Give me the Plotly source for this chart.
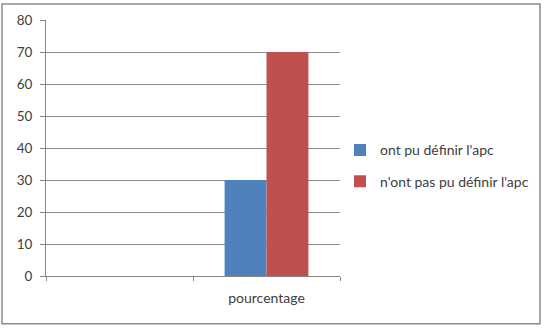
import plotly.graph_objects as go

categories = [" ", "pourcentage"]
series_names = ["ont pu définir l'apc", "n'ont pas pu définir l'apc"]
values_ont_pu = [None, 30]
values_nont_pas = [None, 70]
y_ticks = [0, 10, 20, 30, 40, 50, 60, 70, 80]

colors = ["#4F81BD", "#C0504D"]

fig = go.Figure()
for name, vals, col, grp in zip(series_names, [values_ont_pu, values_nont_pas], colors, ["a", "b"]):
    fig.add_trace(go.Bar(x=categories, y=vals, name=name, marker=dict(color=col, line=dict(width=0)),
                         legendgroup=grp))

fig.update_layout(
    width=549, height=333,
    margin=dict(l=46, r=209, t=18, b=57),
    paper_bgcolor="white", plot_bgcolor="white",
    barmode="group", bargap=0.43, bargroupgap=0,
    font=dict(family="Lato, Carlito, Liberation Sans", size=13, color="#404040"),
    showlegend=True,
    legend=dict(x=1.0, y=0.43, xanchor="left", yanchor="middle",
                font=dict(size=14, color="#404040"),
                traceorder="grouped", tracegroupgap=10, itemwidth=30,
                bgcolor="rgba(0,0,0,0)"),
    xaxis=dict(type="category", range=[-0.5, 1.5], tickson="boundaries",
               ticks="outside", ticklen=4, tickcolor="#868686",
               showline=True, linecolor="#868686", linewidth=1,
               showgrid=False, ticklabelstandoff=9,
               tickfont=dict(size=14, color="#404040")),
    yaxis=dict(range=[0, 80], tickvals=y_ticks, ticks="outside", ticklen=5,
               tickcolor="#868686", showline=True, linecolor="#868686", linewidth=1,
               showgrid=True, gridcolor="#8c8c8c", gridwidth=1, zeroline=False,
               ticklabelstandoff=5,
               tickfont=dict(size=13.5, color="#404040")),
    shapes=[dict(type="rect", xref="paper", yref="paper",
                 x0=(2 - 46) / 294, x1=(540 - 46) / 294,
                 y0=(276 - 324) / 258, y1=(276 - 2) / 258,
                 line=dict(color="#8a8a8a", width=1.5), fillcolor="rgba(0,0,0,0)", layer="below")],
)

fig.write_html("out.html")
